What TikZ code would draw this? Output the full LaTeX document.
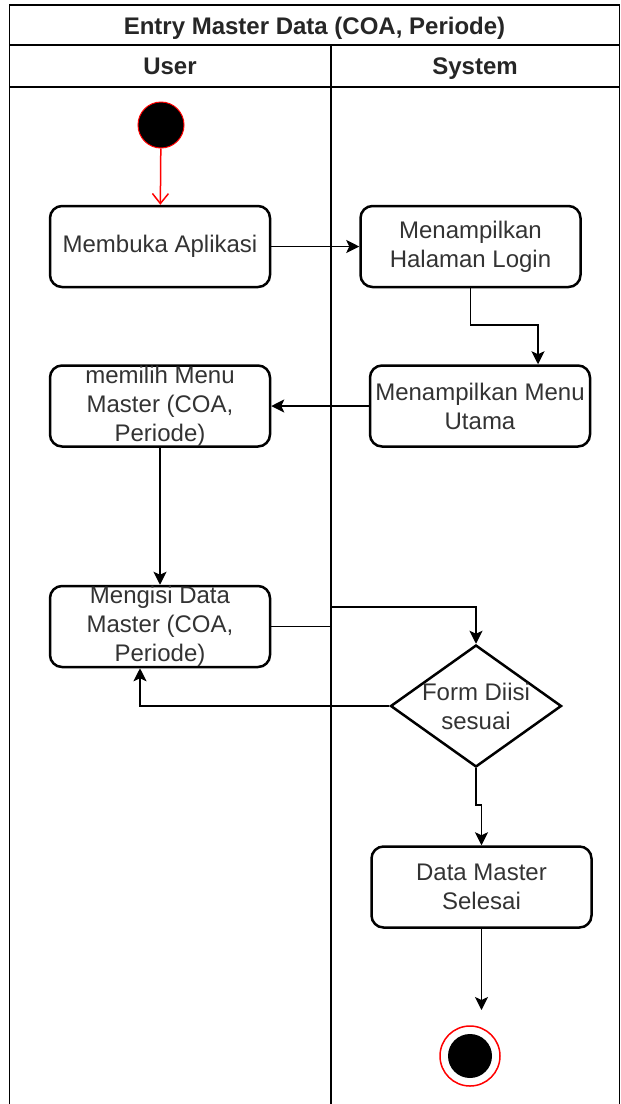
\documentclass[tikz,border=0pt]{standalone}
\usepackage{fontspec}
\setmainfont{Liberation Sans}
\usetikzlibrary{shapes.geometric,arrows.meta}

\begin{document}
\begin{tikzpicture}[x=1pt,y=-1pt,
		lane/.style={line width=1.5pt},
		head/.style={font=\fontsize{24}{29}\selectfont\bfseries,text=black!85,text height=17pt,text depth=5pt},
		txt/.style={align=center,text=black!80,font=\fontsize{24}{29}\selectfont},
		act/.style={txt,rectangle,rounded corners=12pt,draw=black,line width=2.5pt,minimum width=220pt,minimum height=81pt,inner sep=0pt},
		flow/.style={line width=1.8pt,-{Stealth[length=13pt,width=13pt,inset=3pt]}},
		initflow/.style={red,line width=1.5pt,-{Straight Barb[length=10pt,width=16pt]}}]
				\useasboundingbox (0,0) rectangle (621,1104);

				% swimlanes
				\draw[lane] (9.5,1104) -- (9.5,5) -- (619.5,5) -- (619.5,1104);
				\draw[lane] (9.5,45) -- (619.5,45);
				\draw[lane] (9.5,87) -- (619.5,87);
				\draw[lane] (331,45) -- (331,1104);
				\node[head] (title) at (314.5,28) {Entry Master Data (COA, Periode)};
				\node[head] (user) at (170,68) {User};
				\node[head] (system) at (475,68) {System};

				% start
				\node[circle,fill=black,draw=red,line width=1pt,minimum size=46pt,inner sep=0pt] (start) at (161,125) {};

				% activities
				\node[act] (buka) at (160,246.5) {Membuka Aplikasi};
				\node[act] (login) at (470.5,246.5) {Menampilkan\\Halaman Login};
				\node[act] (menu) at (480,406) {Menampilkan Menu\\Utama};
				\node[act] (pilih) at (160,406) {memilih Menu\\Master (COA,\\Periode)};
				\node[act] (isi) at (160,626.5) {Mengisi Data\\Master (COA,\\Periode)};
				\node[diamond,draw=black,line width=2.5pt,minimum width=171pt,minimum height=122pt,inner sep=0pt,
					label={[txt,name=cektext]center:Form Diisi\\sesuai}] (cek) at (476,706) {};
				\node[act] (selesai) at (481.5,887) {Data Master\\Selesai};

				% end
				\node[circle,fill=white,draw=red,line width=1.5pt,minimum size=60pt,inner sep=0pt] (stop) at (470,1056) {};
				\node[circle,fill=black,minimum size=44pt,inner sep=0pt] (stopdot) at (stop) {};

				% bends
				\coordinate (j0) at (538,325);
				\coordinate (j1) at (331,607);
				\coordinate (j2) at (481.5,805);
				\coordinate (j3) at (481.5,1010);

				% flows
				\draw[initflow] (start) -- (buka);
				\draw[flow] (buka) -- (login);
				\draw[flow] (login.south) |- (j0) -- (j0 |- menu.north);
				\draw[flow] (menu) -- (pilih);
				\draw[flow] (pilih) -- (isi);
				\draw[flow] (isi.east) -| (j1) -| (cek.north);
				\draw[flow] (cek.west) -| ([xshift=-20pt]isi.south);
				\draw[flow] (cek.south) |- (j2) -- (selesai.north);
				\draw[flow] (selesai.south) -- (j3);
\end{tikzpicture}
\end{document}
